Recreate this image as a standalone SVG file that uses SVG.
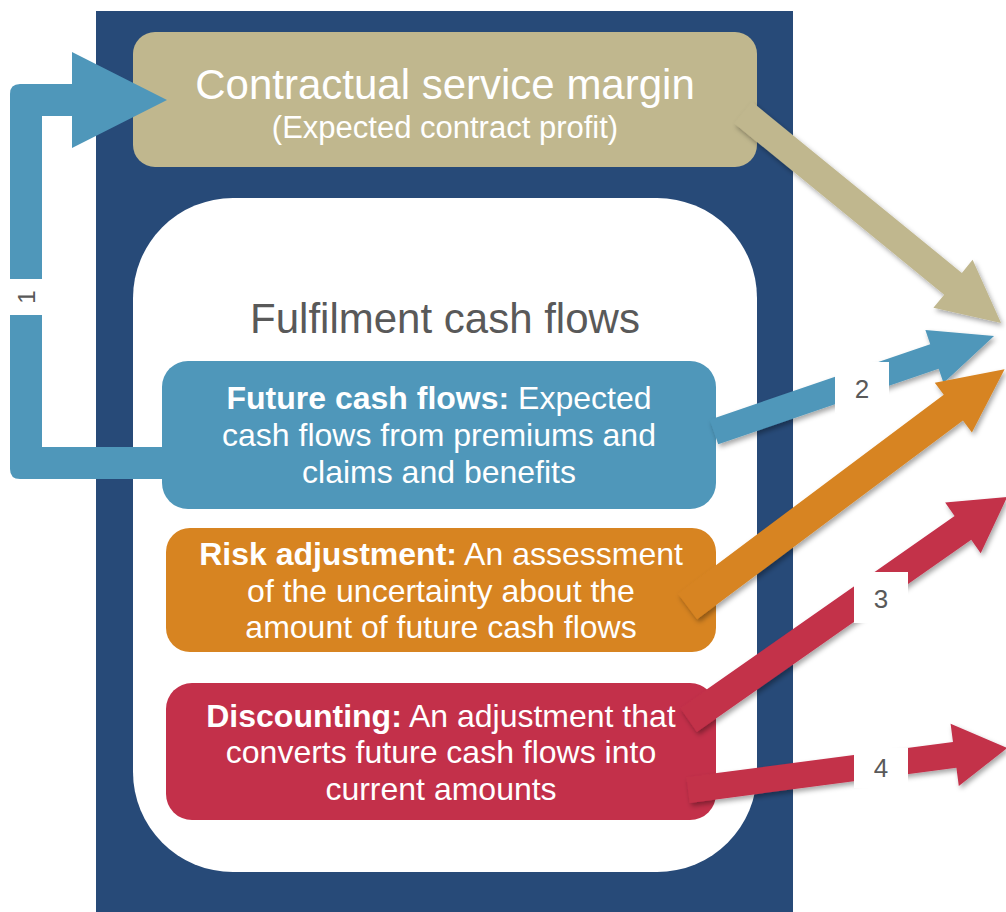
<svg xmlns="http://www.w3.org/2000/svg" width="1006" height="912" viewBox="0 0 1006 912">
<defs>
<filter id="sh" x="-20%" y="-20%" width="140%" height="140%">
<feDropShadow dx="2" dy="3" stdDeviation="2.5" flood-color="#000" flood-opacity="0.35"/>
</filter>
</defs>
<style>
text{font-family:"Liberation Sans",Arial,sans-serif;}
.w{fill:#fff;}
.b{font-weight:bold;}
.box{font-size:32px;fill:#fff;text-anchor:middle;}
.num{font-size:26px;fill:#595959;text-anchor:middle;dominant-baseline:central;}
</style>
<rect width="1006" height="912" fill="#fff"/>
<g id="frame"><rect x="96" y="11" width="697" height="901" fill="#274A78"/></g>
<g id="csm">
<rect x="133" y="32" width="624" height="135" rx="22" fill="#C0B78E"/>
<text x="445" y="99" font-size="42" class="w" text-anchor="middle">Contractual service margin</text>
<text x="445" y="138" font-size="31" class="w" text-anchor="middle">(Expected contract profit)</text>
</g>
<g id="fulfilment">
<rect x="133" y="198" width="624" height="674" rx="100" fill="#fff"/>
<text x="445" y="333" font-size="42" fill="#595959" text-anchor="middle">Fulfilment cash flows</text>
</g>
<g id="arrow1-conn">
<path d="M72,84 L72,52 L167,100 L72,148 L72,116 L42,116 L42,447 L170,447 L170,479 L20,479 Q10,479 10,469 L10,94 Q10,84 20,84 Z" fill="#4F97BA"/>
<rect x="10" y="279" width="32" height="36" fill="#fff"/>
<text class="num" transform="translate(26,297) rotate(-90)" style="font-size:24px">1</text>
</g>
<g id="future">
<rect x="162" y="361" width="554" height="148" rx="26" fill="#4F97BA"/>
<text class="box" x="439" y="409"><tspan class="b">Future cash flows:</tspan> Expected</text>
<text class="box" x="439" y="446">cash flows from premiums and</text>
<text class="box" x="439" y="483">claims and benefits</text>
</g>
<g id="risk">
<rect x="166" y="528" width="550" height="124" rx="24" fill="#D78421"/>
<text class="box" x="441" y="565"><tspan class="b">Risk adjustment:</tspan> An assessment</text>
<text class="box" x="441" y="602">of the uncertainty about the</text>
<text class="box" x="441" y="638">amount of future cash flows</text>
</g>
<g id="discounting">
<rect x="166" y="683" width="550" height="137" rx="26" fill="#C3304A"/>
<text class="box" x="441" y="727"><tspan class="b">Discounting:</tspan> An adjustment that</text>
<text class="box" x="441" y="763">converts future cash flows into</text>
<text class="box" x="441" y="800">current amounts</text>
</g>
<g id="connectors" filter="url(#sh)">
<path transform="translate(743,112.5) rotate(39.2)" d="M0,-14 L271,-14 L271,-31 L333,0 L271,31 L271,14 L0,14 Z" fill="#C0B78E"/>
<path transform="translate(714,432) rotate(-18.9)" d="M0,-13 L233,-13 L233,-28 L296,0 L233,28 L233,13 L0,13 Z" fill="#4F97BA"/>
<path transform="translate(687.5,606.5) rotate(-36.8)" d="M0,-16 L332,-16 L332,-31 L396,0 L332,31 L332,16 L0,16 Z" fill="#D78421"/>
<path transform="translate(688.5,720) rotate(-35)" d="M0,-14.5 L335,-14.5 L335,-31 L389,0 L335,31 L335,14.5 L0,14.5 Z" fill="#C3304A"/>
<path transform="translate(688,790) rotate(-7.5)" d="M0,-13 L269,-13 L269,-31.5 L322,0 L269,31.5 L269,13 L0,13 Z" fill="#C3304A"/>
</g>
<g id="labels">
<rect x="835" y="362" width="54" height="51" fill="#fff"/>
<text class="num" x="862" y="389">2</text>
<rect x="854" y="572" width="54" height="51" fill="#fff"/>
<text class="num" x="881" y="599">3</text>
<rect x="854" y="748" width="54" height="40" fill="#fff"/>
<text class="num" x="881" y="768">4</text>
</g>
</svg>
